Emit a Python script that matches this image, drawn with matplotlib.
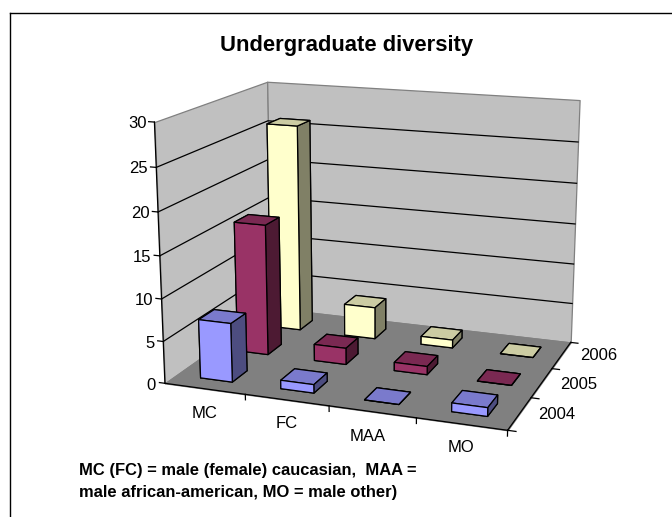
import matplotlib
matplotlib.use("Agg")
import matplotlib.pyplot as plt
from matplotlib.lines import Line2D
from mpl_toolkits.mplot3d.art3d import Poly3DCollection

plt.rcParams["font.family"] = ["Liberation Sans", "DejaVu Sans"]

categories = ["MC", "FC", "MAA", "MO"]
years = ["2004", "2005", "2006"]
values_2004 = [7, 1, 0, 1]
values_2005 = [16, 2, 1, 0]
values_2006 = [26, 4, 1, 0]
z_ticks = [0, 5, 10, 15, 20, 25, 30]

W, H = 672, 517
fig = plt.figure(figsize=(W/100, H/100), dpi=100)
ax = fig.add_axes([0, 0, 1, 1], projection="3d", computed_zorder=False)
ax.set_xlim(0, 4); ax.set_ylim(0, 3); ax.set_zlim(0, 30)
ax.set_axis_off()
ax.patch.set_alpha(0)

# camera and box proportions
ax.view_init(elev=15.1115, azim=-69.9315, roll=0)
ax.set_proj_type("persp", focal_length=0.5504)
ax.set_box_aspect((1, 0.7396, 0.7491))

# place the square 3D panel so the box lands where the layout wants it
scale, centre_x, centre_y = 2647.522, 375.823, 239.263
side = scale*0.185
f0 = 0.095/0.185
ax.set_position([(centre_x-f0*side)/W, ((H-centre_y)-f0*side)/H, side/W, side/H])

FRONT = ["#9999FF", "#993366", "#FFFFCC"]
TOP = ["#7A7ACC", "#7A2952", "#CCCCA3"]
SIDE = ["#4D4D80", "#4D1A33", "#808066"]
WALL = "#C0C0C0"
FLOOR = "#808080"
LW = 0.9

# floor and the two back walls
left_wall = [[(0,0,0),(0,3,0),(0,3,30),(0,0,30)]]
back_wall = [[(0,3,0),(4,3,0),(4,3,30),(0,3,30)]]
floor = [[(0,0,0),(4,0,0),(4,3,0),(0,3,0)]]
ax.add_collection3d(Poly3DCollection(left_wall, facecolors=WALL, edgecolors=FLOOR, linewidths=LW, zorder=1))
ax.add_collection3d(Poly3DCollection(back_wall, facecolors=WALL, edgecolors=FLOOR, linewidths=LW, zorder=1))
ax.add_collection3d(Poly3DCollection(floor, facecolors=FLOOR, edgecolors=FLOOR, linewidths=LW, zorder=2))

# horizontal gridlines wrap around both walls
for z in z_ticks[1:-1]:
    ax.plot([0,0,4], [0,3,3], [z,z,z], color="k", lw=LW, zorder=3)

# axis lines and tick marks
ax.plot([0,0], [0,0], [0,30], color="k", lw=LW, zorder=3)
ax.plot([0,4,4], [0,0,3], [0,0,0], color="k", lw=LW, zorder=3)
for z in z_ticks:
    ax.plot([-0.07,0], [0,0], [z,z], color="k", lw=LW, zorder=3)
for i in range(1, len(categories)+1):
    ax.plot([i,i], [0,0], [0,-0.65], color="k", lw=LW, zorder=3)
for j in range(len(years)+1):
    ax.plot([4,4.09], [j,j], [0,0], color="k", lw=LW, zorder=3)

# bars, back row first so nearer rows overlap it
series = [values_2004, values_2005, values_2006]
for row in (2, 1, 0):
    for col, v in enumerate(series[row]):
        colors = [TOP[row], TOP[row], FRONT[row], FRONT[row], SIDE[row], SIDE[row]]
        ax.bar3d(col+0.3, row+0.3, 0, 0.4, 0.4, v, color=colors, shade=False,
                 edgecolor="k", linewidth=LW, zorder=10+(2-row)+0.1*col)

ax.set_xlim(0, 4); ax.set_ylim(0, 3); ax.set_zlim(0, 30)

def px_text(x, y, s, **kw):
    fig.text(x/W, 1-y/H, s, va="baseline", **kw)

px_text(347, 50.5, "Undergraduate diversity", fontsize=15.8, fontweight="bold", ha="center")
# value labels follow the slanted vertical axis
label_right = [156, 154.5, 153, 151.5, 149.5, 148, 146.5]
label_base = [389.5, 348, 305, 262, 218, 173, 128]
for z, xx, yy in zip(z_ticks, label_right, label_base):
    px_text(xx, yy, str(z), fontsize=12, ha="right")
for c, (xx, yy) in zip(categories, [(205,417.5),(286.5,428.5),(368,441),(461.5,452.5)]):
    px_text(xx, yy, c, fontsize=12, ha="center")
for c, (xx, yy) in zip(years, [(556.5,419),(578.5,389),(598.5,360)]):
    px_text(xx, yy, c, fontsize=12, ha="center")
px_text(79, 475, "MC (FC) = male (female) caucasian,  MAA =", fontsize=11.85, fontweight="bold", ha="left")
px_text(79, 497, "male african-american, MO = male other)", fontsize=11.85, fontweight="bold", ha="left")

# chart frame: only its top and left edges fall inside the image
fig.add_artist(Line2D([10/W,10/W], [0,1-12.5/H], color="k", lw=1))
fig.add_artist(Line2D([10/W,1], [1-12.5/H,1-12.5/H], color="k", lw=1))

fig.savefig("out.png", dpi=100)
